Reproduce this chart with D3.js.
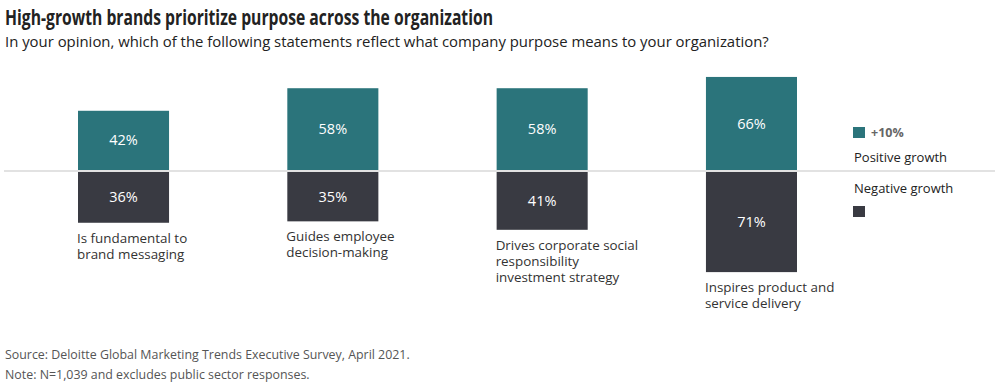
<!DOCTYPE html>
<html>
<head>
<meta charset="utf-8">
<script src="https://cdn.jsdelivr.net/npm/d3@7"></script>
<style>
  body { margin: 0; background: #fff; }
  text { font-family: "Open Sans", sans-serif; }
</style>
</head>
<body>
<script>

var categories = [
    ["Is fundamental to", "brand messaging"],
    ["Guides employee", "decision-making"],
    ["Drives corporate social", "responsibility", "investment strategy"],
    ["Inspires product and", "service delivery"]
];
var positive = [42, 58, 58, 66];
var negative = [36, 35, 41, 71];

var title = "High-growth brands prioritize purpose across the organization";
var subtitle = "In your opinion, which of the following statements reflect what company purpose means to your organization?";
var notes = ["Source: Deloitte Global Marketing Trends Executive Survey, April 2021.",
             "Note: N=1,039 and excludes public sector responses."];

var width = 1000, height = 385;
var baseline = 171;
var teal = "#2b747b", dark = "#393a42";

var svg = d3.select("body").append("svg").attr("width", width).attr("height", height);

// TITLES
svg.append("text").attr("x", 5).attr("y", 25)
    .attr("font-size", 21).attr("font-weight", 700).attr("fill", "#222")
    .attr("textLength", 488).attr("lengthAdjust", "spacingAndGlyphs")
    .text(title);

svg.append("text").attr("x", 5).attr("y", 47)
    .attr("font-size", 14.9).attr("fill", "#222")
    .text(subtitle);

//SCALES
var xScale = d3.scaleBand()
    .domain(d3.range(categories.length))
    .range([78, 797])
    .paddingInner(0.565)
    .paddingOuter(0);

var yScale = d3.scaleLinear().domain([0, 100]).range([0, 141]);

// zero line
svg.append("line")
    .attr("x1", 4).attr("x2", 995)
    .attr("y1", baseline).attr("y2", baseline)
    .attr("stroke", "#e2e2e2").attr("stroke-width", 2);

var groups = svg.selectAll(".cat").data(categories).enter().append("g")
    .attr("class", "cat")
    .attr("transform", function(d, i){ return "translate(" + xScale(i) + ",0)"; });

// positive bars
groups.append("rect")
    .attr("x", 0).attr("width", xScale.bandwidth())
    .attr("y", function(d, i){ return baseline - 1 - yScale(positive[i]); })
    .attr("height", function(d, i){ return yScale(positive[i]); })
    .attr("fill", teal);

groups.append("text")
    .attr("x", xScale.bandwidth() / 2)
    .attr("y", function(d, i){ return baseline - 1 - yScale(positive[i]) / 2; })
    .attr("dy", "0.35em").attr("text-anchor", "middle")
    .attr("font-size", 14.5).attr("fill", "#fff")
    .text(function(d, i){ return positive[i] + "%"; });

// negative bars
groups.append("rect")
    .attr("x", 0).attr("width", xScale.bandwidth())
    .attr("y", baseline + 1)
    .attr("height", function(d, i){ return yScale(negative[i]); })
    .attr("fill", dark);

groups.append("text")
    .attr("x", xScale.bandwidth() / 2)
    .attr("y", function(d, i){ return baseline + 1 + yScale(negative[i]) / 2; })
    .attr("dy", "0.35em").attr("text-anchor", "middle")
    .attr("font-size", 14.5).attr("fill", "#fff")
    .text(function(d, i){ return negative[i] + "%"; });

// category labels
groups.each(function(d, i){
    var t = d3.select(this).append("text")
        .attr("x", -1)
        .attr("y", baseline + 1 + yScale(negative[i]) + 20)
        .attr("font-size", 13.4).attr("fill", "#333");
    t.selectAll("tspan").data(d).enter().append("tspan")
        .attr("x", -1)
        .attr("dy", function(s, j){ return j === 0 ? 0 : 16; })
        .text(function(s){ return s; });
});

// LEGEND
var legend = svg.append("g").attr("transform", "translate(853,0)");
legend.append("rect").attr("x", 0).attr("y", 127).attr("width", 12).attr("height", 11).attr("fill", teal);
legend.append("text").attr("x", 18).attr("y", 137)
    .attr("font-size", 12.5).attr("font-weight", 700).attr("fill", "#666").text("+10%");
legend.append("text").attr("x", 1).attr("y", 162)
    .attr("font-size", 13).attr("fill", "#222").text("Positive growth");
legend.append("text").attr("x", 1).attr("y", 193)
    .attr("font-size", 13).attr("fill", "#222").text("Negative growth");
legend.append("rect").attr("x", 0).attr("y", 206).attr("width", 12).attr("height", 11).attr("fill", dark);

// FOOTER
svg.selectAll(".note").data(notes).enter().append("text")
    .attr("class", "note")
    .attr("x", 5)
    .attr("y", function(d, i){ return 359 + i * 20; })
    .attr("font-size", 12.4).attr("fill", "#555")
    .text(function(d){ return d; });

</script>
</body>
</html>
